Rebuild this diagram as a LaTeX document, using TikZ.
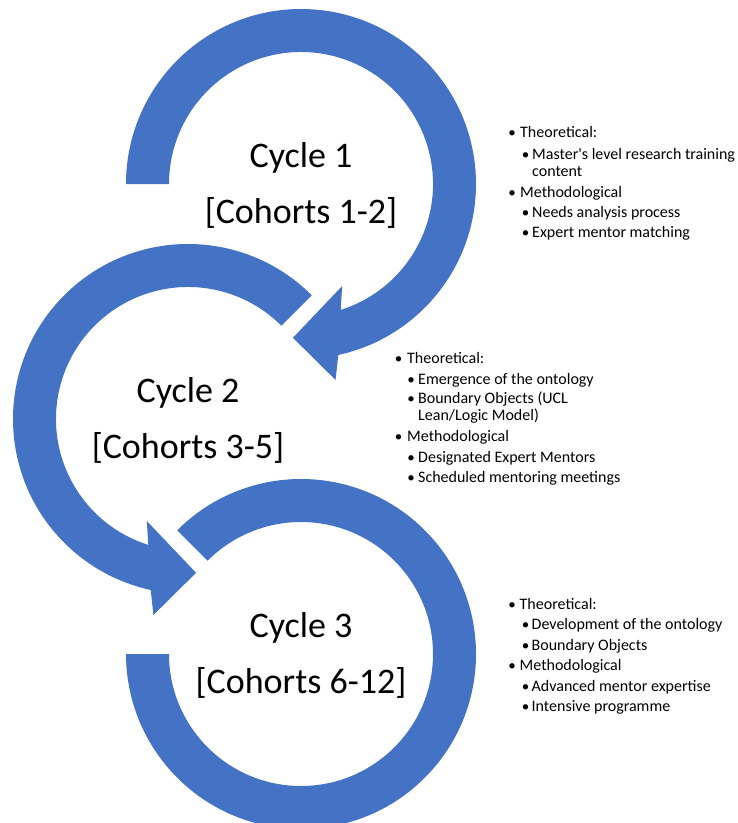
\documentclass[tikz,border=0pt]{standalone}
\usepackage{fontspec}
\setmainfont{Carlito}[Ligatures=TeXOff]
\usetikzlibrary{calc}
\definecolor{ringblue}{HTML}{4472C4}

% one line of a bullet list: name, x of text, baseline y, text
\newcommand\listline[4]{\node[note] (#1) at (#2,#3) {#4};}
% a bullet: name, x of its centre, baseline y
\newcommand\listdot[3]{\node[dot] (#1) at (#2,#3) {\textbullet};}

\begin{document}
\begin{tikzpicture}[x=1pt,y=1pt,
  ring/.style={fill=ringblue,draw=none},
  cyc/.style={font=\fontsize{36}{43}\selectfont,anchor=base,inner sep=0pt},
  note/.style={font=\fontsize{16}{18}\selectfont,anchor=base west,inner sep=0pt},
  dot/.style={font=\fontsize{15}{18}\selectfont,anchor=base,inner sep=0pt}]
\useasboundingbox (0,0) rectangle (738,-823);
\clip (0,0) rectangle (738,-823);

\coordinate (c1) at (301,-184);
\coordinate (c2) at (188,-419);
\coordinate (c3) at (301,-654);

% ring 1: flat end on the left, arrow head turning into ring 2
\fill[ring] ($(c1)+(180:175)$) arc[start angle=180,end angle=-77.7,radius=175]
  -- ($(c1)+(-80:199)$) -- ($(c1)+(-93:154)$) -- ($(c1)+(-68:110)$)
  -- ($(c1)+(-72.5:132)$) arc[start angle=-72.5,end angle=180,radius=132] -- cycle;

% ring 2: flat end upper right, arrow head turning into ring 3
\fill[ring] ($(c2)+(45:175)$) arc[start angle=45,end angle=257.7,radius=175]
  -- ($(c2)+(260:199)$) -- ($(c2)+(273:154)$) -- ($(c2)+(248:110)$)
  -- ($(c2)+(252.5:132)$) arc[start angle=252.5,end angle=45,radius=132] -- cycle;

% ring 3: open between 135 and 180 degrees
\fill[ring] ($(c3)+(135:175)$) arc[start angle=135,end angle=-180,radius=175]
  -- ($(c3)+(180:132)$) arc[start angle=-180,end angle=135,radius=132] -- cycle;

% cycle labels
\node[cyc] (t1a) at ($(c1)+(0,16.5)$) {Cycle 1};
\node[cyc] (t1b) at ($(c1)+(0,-39.5)$) {[Cohorts 1-2]};
\node[cyc] (t2a) at ($(c2)+(0,16.5)$) {Cycle 2};
\node[cyc] (t2b) at ($(c2)+(0,-39.5)$) {[Cohorts 3-5]};
\node[cyc] (t3a) at ($(c3)+(0,16.5)$) {Cycle 3};
\node[cyc] (t3b) at ($(c3)+(0,-39.5)$) {[Cohorts 6-12]};

% notes for cycle 1
\listdot{d1a}{512}{-137}   \listline{n1a}{520}{-137}{Theoretical:}
\listdot{d1b}{525.5}{-159} \listline{n1b}{532}{-159}{Master's level research training}
                           \listline{n1c}{532}{-176.5}{content}
\listdot{d1d}{512}{-197}   \listline{n1d}{520}{-197}{Methodological}
\listdot{d1e}{525.5}{-217} \listline{n1e}{532}{-217}{Needs analysis process}
\listdot{d1f}{525.5}{-237.5} \listline{n1f}{532}{-237.5}{Expert mentor matching}

% notes for cycle 2
\listdot{d2a}{398.5}{-363.5} \listline{n2a}{407}{-363.5}{Theoretical:}
\listdot{d2b}{411}{-384.5}   \listline{n2b}{418}{-384.5}{Emergence of the ontology}
\listdot{d2c}{411}{-403.5}   \listline{n2c}{418}{-403.5}{Boundary Objects (UCL}
                             \listline{n2d}{418}{-420.5}{Lean/Logic Model)}
\listdot{d2e}{398.5}{-441.5} \listline{n2e}{407}{-441.5}{Methodological}
\listdot{d2f}{411}{-462.5}   \listline{n2f}{418}{-462.5}{Designated Expert Mentors}
\listdot{d2g}{411}{-482}     \listline{n2g}{418}{-482}{Scheduled mentoring meetings}

% notes for cycle 3
\listdot{d3a}{512}{-609}     \listline{n3a}{519.5}{-609}{Theoretical:}
\listdot{d3b}{525.5}{-629.5} \listline{n3b}{531.5}{-629.5}{Development of the ontology}
\listdot{d3c}{525.5}{-650}   \listline{n3c}{531.5}{-650}{Boundary Objects}
\listdot{d3d}{512}{-670.5}   \listline{n3d}{519.5}{-670.5}{Methodological}
\listdot{d3e}{525.5}{-691}   \listline{n3e}{531.5}{-691}{Advanced mentor expertise}
\listdot{d3f}{525.5}{-711.5} \listline{n3f}{531.5}{-711.5}{Intensive programme}
\end{tikzpicture}
\end{document}
